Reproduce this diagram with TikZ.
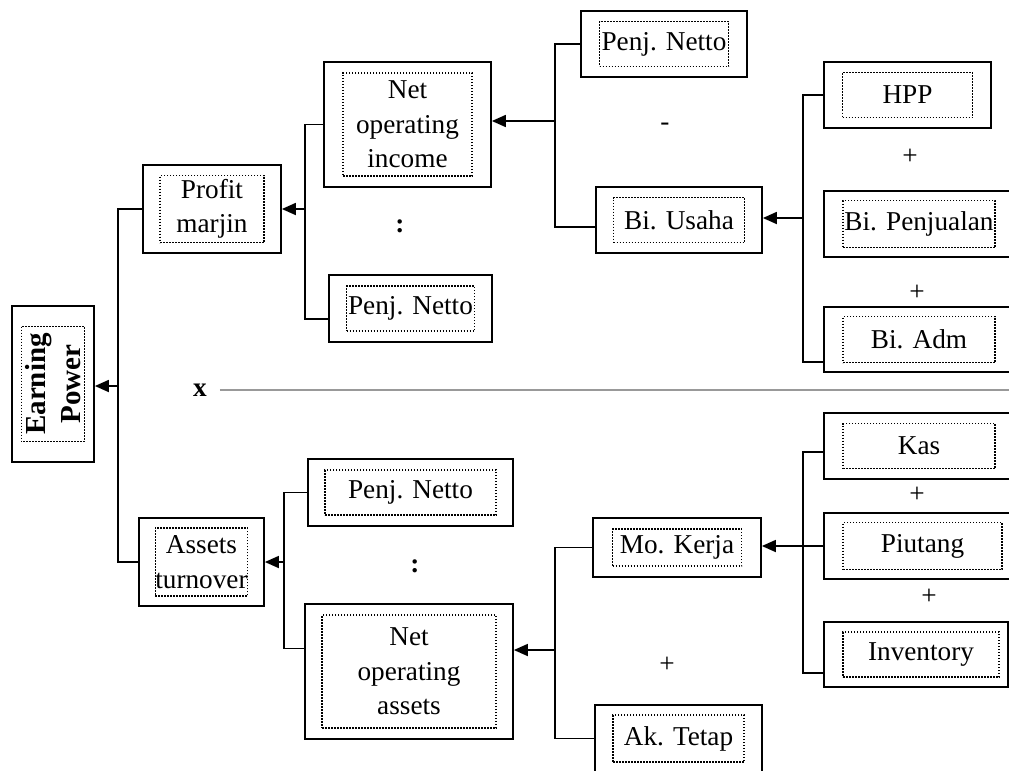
\documentclass[tikz,border=0pt]{standalone}
\usepackage{fontspec}
\setmainfont{Liberation Serif}
\usetikzlibrary{arrows.meta}

\begin{document}
\begin{tikzpicture}[x=0.2mm,y=-0.2mm]
    % Define styles
    \tikzstyle{outbox} = [rectangle, draw, line width=0.35mm, inner sep=0pt]
    \tikzstyle{inbox} = [rectangle, draw, line width=0.3mm, dash pattern=on 0.3mm off 0.3mm, inner sep=0pt, align=center, font=\fontsize{15.5}{19.6}\selectfont]
    \tikzstyle{op} = [font=\fontsize{15.5}{19.6}\selectfont, inner sep=1pt]
    \tikzstyle{line} = [line width=0.35mm]
    \tikzstyle{arrow} = [line width=0.35mm,->,>={Triangle[length=2.8mm,width=2.4mm]}]
    \tikzstyle{sepline} = [line width=0.25mm, gray!80]

    \useasboundingbox (0,0) rectangle (1009,770);
    \clip (0,0) rectangle (1009,770);

    % Level 0
    \node (ep) [outbox, minimum width=16.4mm, minimum height=31.2mm] at (53,384) {};
    \node (ep-in) [inbox, rotate=90, minimum width=23mm, minimum height=12.6mm, font=\fontsize{16.5}{7mm}\selectfont\bfseries] at (ep) {Earning\\Power};

    % Level 1
    \node (pm) [outbox, minimum width=27.6mm, minimum height=17.6mm] at (212,209) {};
    \node (pm-in) [inbox, minimum width=20.8mm, minimum height=13.4mm] at (pm) {Profit\\marjin};
    \node (at) [outbox, minimum width=25mm, minimum height=17.6mm] at (201.5,562) {};
    \node (at-in) [inbox, minimum width=17.8mm, minimum height=13.6mm] at (at) {Assets\\turnover};

    % Level 2
    \node (noi) [outbox, minimum width=33.4mm, minimum height=25mm] at (407.5,124.5) {};
    \node (noi-in) [inbox, minimum width=25.8mm, minimum height=20.6mm] at (noi) {Net\\operating\\income};
    \node (pn1) [outbox, minimum width=32.6mm, minimum height=13.4mm] at (410.5,308.5) {};
    \node (pn1-in) [inbox, minimum width=25.6mm, minimum height=9mm] at (pn1) {Penj. Netto};
    \node (pn2) [outbox, minimum width=41mm, minimum height=13.4mm] at (410.5,492.5) {};
    \node (pn2-in) [inbox, minimum width=34.2mm, minimum height=9mm] at (pn2) {Penj. Netto};
    \node (noa) [outbox, minimum width=41.6mm, minimum height=27mm] at (409,671.5) {};
    \node (noa-in) [inbox, minimum width=34.8mm, minimum height=22.6mm] at (noa) {Net\\operating\\assets};

    % Level 3
    \node (pntop) [outbox, minimum width=33.2mm, minimum height=13.2mm] at (664,44) {};
    \node (pntop-in) [inbox, minimum width=25.8mm, minimum height=9mm] at (pntop) {Penj. Netto};
    \node (busaha) [outbox, minimum width=33.2mm, minimum height=13.2mm] at (679,220) {};
    \node (busaha-in) [inbox, minimum width=26.2mm, minimum height=9mm] at (busaha) {Bi. Usaha};
    \node (mokerja) [outbox, minimum width=33.6mm, minimum height=11.8mm] at (677,547.5) {};
    \node (mokerja-in) [inbox, minimum width=25.8mm, minimum height=7.4mm] at (mokerja) {Mo. Kerja};
    \node (aktetap) [outbox, minimum width=33.4mm, minimum height=13.4mm] at (678.5,738.5) {};
    \node (aktetap-in) [inbox, minimum width=26.2mm, minimum height=9.4mm] at (aktetap) {Ak. Tetap};

    % Level 4
    \node (hpp) [outbox, minimum width=33.4mm, minimum height=13.2mm] at (907.5,95) {};
    \node (hpp-in) [inbox, minimum width=26mm, minimum height=9mm] at (hpp) {HPP};
    \node (bpenj) [outbox, minimum width=38mm, minimum height=13.2mm] at (919,224) {};
    \node (bpenj-in) [inbox, minimum width=30.4mm, minimum height=9.4mm] at (bpenj) {Bi. Penjualan};
    \node (badm) [outbox, minimum width=38mm, minimum height=13mm] at (919,339.5) {};
    \node (badm-in) [inbox, minimum width=30.4mm, minimum height=9.2mm] at (badm) {Bi. Adm};
    \node (kas) [outbox, minimum width=38mm, minimum height=13.2mm] at (919,446) {};
    \node (kas-in) [inbox, minimum width=30.4mm, minimum height=9mm] at (kas) {Kas};
    \node (piutang) [outbox, minimum width=38mm, minimum height=13.2mm] at (919,546) {};
    \node (piutang-in) [inbox, minimum width=31.8mm, minimum height=9.4mm] at ([xshift=0.7mm]piutang) {Piutang};
    \node (inventory) [outbox, minimum width=36.8mm, minimum height=13mm] at (916,654.5) {};
    \node (inventory-in) [inbox, minimum width=31.2mm, minimum height=9mm] at ([xshift=1mm]inventory) {Inventory};

    % Operators
    \node (op-x) [op, font=\fontsize{15.5}{19.6}\selectfont\bfseries] at (200,390) {x};
    \node (op-div1) [op] at (400,226) {\textbf{:}};
    \node (op-div2) [op] at (415,566) {\textbf{:}};
    \node (op-min) [op] at (665,127) {-};
    \node (op-plus1) [op] at (910,157) {+};
    \node (op-plus2) [op] at (917,293) {+};
    \node (op-plus3) [op] at (917,495) {+};
    \node (op-plus4) [op] at (929,597) {+};
    \node (op-plus5) [op] at (667,665) {+};
    \coordinate (xend) at (1009,393);
    \draw [sepline] ([xshift=2.2mm]op-x.east) -- (op-x.east -| xend);

    % Dependencies
    \coordinate (epbus) at (118,386);
    \draw [line] (pm.west) -| (epbus) |- (at.west);
    \draw [arrow] (epbus) -- (epbus -| ep.east);

    \coordinate (pmbus) at (305,209);
    \draw [line] (noi.west) -| (pmbus) |- ([yshift=-2.1mm]pn1.west);
    \draw [arrow] (pmbus) -- (pmbus -| pm.east);

    \coordinate (noibus) at (555,121);
    \draw [line] (pntop.west) -| (noibus) |- ([yshift=-1.4mm]busaha.west);
    \draw [arrow] (noibus) -- (noibus -| noi.east);

    \coordinate (bubus) at (803,218);
    \draw [line] (hpp.west) -| (bubus) |- ([yshift=-4.5mm]badm.west);
    \draw [arrow] (bubus) -- (bubus -| busaha.east);

    \coordinate (atbus) at (284,562);
    \draw [line] (pn2.west) -| (atbus) |- ([yshift=4.6mm]noa.west);
    \draw [arrow] (atbus) -- (atbus -| at.east);

    \coordinate (noabus) at (555,650);
    \draw [line] (mokerja.west) -| (noabus) |- (aktetap.west);
    \draw [arrow] (noabus) -- (noabus -| noa.east);

    \coordinate (mkbus) at (803,548);
    \draw [line] ([yshift=-1.2mm]kas.west) -| (mkbus) |- ([yshift=-3.7mm]inventory.west);
    \draw [arrow] (piutang.west) -- (piutang.west -| mokerja.east);
\end{tikzpicture}
\end{document}
